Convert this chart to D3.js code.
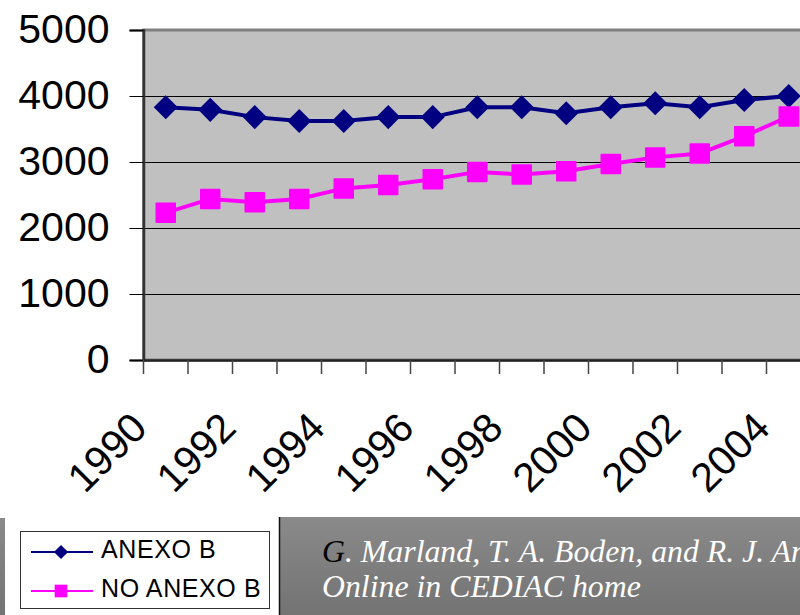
<!DOCTYPE html>
<html>
<head>
<meta charset="utf-8">
<script src="https://cdn.jsdelivr.net/npm/d3@7"></script>
<style>
  body { margin: 0; background: #fff; }
  svg { display: block; font-family: Arial, "Liberation Sans", sans-serif; }
</style>
</head>
<body>
<svg id="svg" width="800" height="615"></svg>
<script>
var years = [1990, 1991, 1992, 1993, 1994, 1995, 1996, 1997, 1998, 1999, 2000, 2001, 2002, 2003, 2004];
var anexoB = [3830, 3790, 3680, 3620, 3620, 3680, 3680, 3830, 3830, 3740, 3830, 3890, 3830, 3940, 4000];
var noAnexoB = [2230, 2440, 2390, 2440, 2600, 2650, 2740, 2850, 2810, 2860, 2970, 3070, 3130, 3390, 3690];
var yTicks = [0, 1000, 2000, 3000, 4000, 5000];
var seriesNames = ["ANEXO B", "NO ANEXO B"];
var sourceLine1 = ". Marland, T. A. Boden, and R. J. Andres";
var sourceLine2 = "Online in CEDIAC home";

var svg = d3.select("#svg");
var plotLeft = 143.5, plotTop = 30, plotBottom = 360, step = 44.5;

var x = d3.scaleBand().domain(years).range([plotLeft, plotLeft + step * years.length]);
var y = d3.scaleLinear().domain([0, 5000]).range([plotBottom, plotTop]);
var bw = x.bandwidth();

var defs = svg.append("defs");
var grad = defs.append("linearGradient").attr("id", "panel").attr("x1", 0).attr("y1", 0).attr("x2", 0).attr("y2", 1);
grad.append("stop").attr("offset", "0%").attr("stop-color", "#8a8a8a");
grad.append("stop").attr("offset", "100%").attr("stop-color", "#737373");
defs.append("clipPath").attr("id", "plotclip").append("rect")
  .attr("x", plotLeft).attr("y", plotTop - 3).attr("width", 800 - plotLeft).attr("height", plotBottom - plotTop + 6);

// plot area
svg.append("rect")
  .attr("x", plotLeft).attr("y", plotTop)
  .attr("width", x.range()[1] - plotLeft).attr("height", plotBottom - plotTop)
  .attr("fill", "#c0c0c0").attr("stroke", "#808080").attr("stroke-width", 3);

svg.append("g").selectAll("line").data(yTicks.slice(1, 5)).join("line")
  .attr("x1", plotLeft).attr("x2", 800)
  .attr("y1", function(d){ return y(d) + 0.5; })
  .attr("y2", function(d){ return y(d) + 0.5; })
  .attr("stroke", "#000").attr("stroke-width", 1);

// y axis
var yAxis = svg.append("g").attr("transform", "translate(" + plotLeft + ",0)")
  .call(d3.axisLeft(y).tickValues(yTicks).tickSize(14).tickPadding(20).tickFormat(d3.format("d")));
yAxis.select(".domain").attr("stroke", "#333").attr("stroke-width", 2.5);
yAxis.selectAll(".tick line").attr("stroke", "#000");
yAxis.selectAll(".tick text").attr("font-size", 41).attr("font-family", "Arial, 'Liberation Sans', sans-serif")
  .attr("fill", "#000").attr("dy", "0.3em");

// x axis
var xAxis = svg.append("g").attr("transform", "translate(0," + plotBottom + ")")
  .call(d3.axisBottom(x).tickSize(14).tickSizeOuter(0)
    .tickFormat(function(d){ return d % 2 == 0 ? d : ""; }));
xAxis.select(".domain").attr("stroke", "#222").attr("stroke-width", 2.5);
xAxis.selectAll(".tick line").attr("stroke", "#444").attr("stroke-width", 1.5)
  .attr("transform", "translate(" + (-bw / 2) + ",0)");
xAxis.selectAll(".tick text")
  .attr("font-size", 41).attr("font-family", "Arial, 'Liberation Sans', sans-serif").attr("fill", "#000")
  .attr("text-anchor", "end").attr("y", 0).attr("dy", 0)
  .attr("transform", "translate(-16.5,70) rotate(-45)");

// series
var lineGen = d3.line()
  .x(function(d, i){ return x(years[i]) + bw / 2; })
  .y(function(d){ return y(d); });

var plot = svg.append("g").attr("clip-path", "url(#plotclip)");

plot.append("path").datum(anexoB).attr("d", lineGen)
  .attr("fill", "none").attr("stroke", "#000080").attr("stroke-width", 4);
plot.selectAll(".dia").data(anexoB).join("path").attr("class", "dia")
  .attr("d", d3.symbol(d3.symbolSquare, 289))
  .attr("transform", function(d, i){ return "translate(" + (x(years[i]) + bw / 2) + "," + y(d) + ") rotate(45)"; })
  .attr("fill", "#000080");

plot.append("path").datum(noAnexoB).attr("d", lineGen)
  .attr("fill", "none").attr("stroke", "#ff00ff").attr("stroke-width", 4);
plot.selectAll(".sq").data(noAnexoB).join("path").attr("class", "sq")
  .attr("d", d3.symbol(d3.symbolSquare, 361))
  .attr("transform", function(d, i){ return "translate(" + (x(years[i]) + bw / 2) + "," + y(d) + ")"; })
  .attr("fill", "#ff00ff").attr("stroke", "#ff00ff").attr("stroke-width", 1.5).attr("stroke-linejoin", "round");

// bottom panels
svg.append("rect").attr("x", 0).attr("y", 518).attr("width", 5).attr("height", 97).attr("fill", "url(#panel)");
svg.append("rect").attr("x", 279).attr("y", 517).attr("width", 521).attr("height", 98).attr("fill", "url(#panel)");
svg.append("line").attr("x1", 279.5).attr("x2", 279.5).attr("y1", 517).attr("y2", 615)
  .attr("stroke", "#111").attr("stroke-width", 1.5);

var src = svg.append("text").attr("x", 322).attr("y", 562)
  .attr("font-family", "'Liberation Serif', 'Times New Roman', serif").attr("font-style", "italic")
  .attr("font-size", 31.8);
src.append("tspan").attr("fill", "#000").text("G");
src.append("tspan").attr("fill", "#fff").text(sourceLine1);
svg.append("text").attr("x", 322).attr("y", 597)
  .attr("font-family", "'Liberation Serif', 'Times New Roman', serif").attr("font-style", "italic")
  .attr("font-size", 31.8).attr("fill", "#fff").text(sourceLine2);

// legend
var legend = svg.append("g");
legend.append("rect").attr("x", 20.5).attr("y", 531.5).attr("width", 249).attr("height", 77)
  .attr("fill", "#fff").attr("stroke", "#333").attr("stroke-width", 1);
var colors = ["#000080", "#ff00ff"];
var ly = d3.scalePoint().domain(seriesNames).range([552, 591]);
legend.selectAll(".lline").data(seriesNames).join("line").attr("class", "lline")
  .attr("x1", 31).attr("x2", 93)
  .attr("y1", function(d){ return ly(d); }).attr("y2", function(d){ return ly(d); })
  .attr("stroke", function(d, i){ return colors[i]; }).attr("stroke-width", 2);
legend.selectAll(".lmark").data(seriesNames).join("path").attr("class", "lmark")
  .attr("d", function(d, i){ return d3.symbol(d3.symbolSquare, i == 0 ? 100 : 160)(); })
  .attr("transform", function(d, i){ return "translate(61," + ly(d) + ")" + (i == 0 ? " rotate(45)" : ""); })
  .attr("fill", function(d, i){ return colors[i]; });
legend.selectAll(".ltext").data(seriesNames).join("text").attr("class", "ltext")
  .attr("x", 101).attr("y", function(d){ return ly(d) + 6; })
  .attr("font-size", 25).attr("letter-spacing", 0.6).attr("fill", "#000")
  .text(function(d){ return d; });
</script>
</body>
</html>
